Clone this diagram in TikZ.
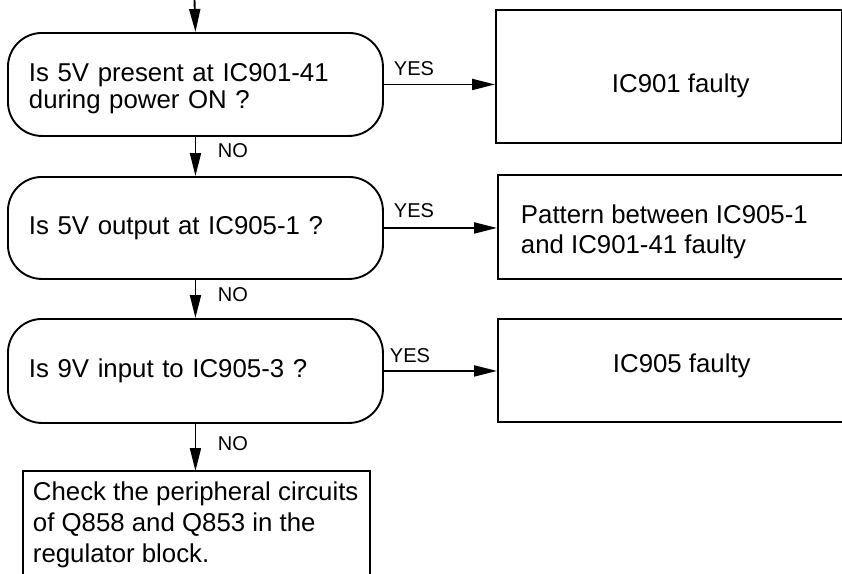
\documentclass[tikz,border=0pt]{standalone}
\usepackage{fontspec}
\setmainfont{Liberation Sans}
\usetikzlibrary{arrows.meta}
\begin{document}
\begin{tikzpicture}[x=1pt,y=-1pt,
  line width=1.9pt,
  dec/.style={draw, rounded corners=34pt, text width=333pt, align=left,
    inner xsep=21pt, inner ysep=0pt, font=\fontsize{25.8}{27}\selectfont, anchor=north west},
  res/.style={draw, minimum width=345pt, anchor=north west, inner sep=0pt},
  txt/.style={font=\fontsize{25.8}{30}\selectfont, inner sep=0pt},
  lbl/.style={font=\fontsize{20}{20}\selectfont, inner sep=0pt, anchor=base west},
  arr/.style={-{Triangle[length=23pt,width=11pt]}, line width=1.9pt},
]
\useasboundingbox (0,0) rectangle (842,573);
\clip (0,0) rectangle (842,573);

% decisions
\node[dec, minimum height=103pt] (d1) at (7,32) {\rule{0pt}{26pt}Is 5V present at IC901-41\\during power ON ?};
\node[dec, minimum height=102pt] (d2) at (7,176) {Is 5V output at IC905-1 ?};
\node[dec, minimum height=104pt] (d3) at (7,318) {Is 9V input to IC905-3 ?};

% results
\node[res, minimum width=346pt, minimum height=133pt] (r1) at (495,9) {};
\node[res, minimum height=104pt] (r2) at (497,174) {};
\node[res, minimum height=103pt] (r3) at (497,318) {};
\node[txt, anchor=base west] (t1) at (611,92) {IC901 faulty};
\node[txt, align=left, anchor=north west] (t2) at (520,204) {Pattern between IC905-1\\and IC901-41 faulty};
\node[txt, anchor=base west] (t3) at (612,372) {IC905 faulty};

% final box (open at the bottom)
\node[minimum width=345pt, minimum height=140pt, anchor=north west, inner sep=0pt] (chk) at (23,471) {};
\draw (chk.south west) -- (chk.north west) -- (chk.north east) -- (chk.south east);
\node[font=\fontsize{25.8}{31}\selectfont, inner sep=0pt, align=left, anchor=north west] (chkt) at (32,481)
  {Check the peripheral circuits\\of Q858 and Q853 in the\\regulator block.};

% connectors
\coordinate (start) at (194.5,0);
\draw[arr] (start) -- (d1.north);
\draw[arr] (d1.south) -- (d2.north);
\draw[arr] (d2.south) -- (d3.north);
\draw[arr] (d3.south) -- (d3.south |- chk.north);
\draw[arr] (d1.east) -- (d1.east -| r1.west);
\draw[arr] (d2.east) -- (d2.east -| r2.west);
\draw[arr] (d3.east) -- (d3.east -| r3.west);

% labels
\node[lbl] (y1) at (393,75) {YES};
\node[lbl] (y2) at (393,217) {YES};
\node[lbl] (y3) at (389,362) {YES};
\node[lbl] (n1) at (217,157) {NO};
\node[lbl] (n2) at (217,301) {NO};
\node[lbl] (n3) at (217,450) {NO};
\end{tikzpicture}
\end{document}
